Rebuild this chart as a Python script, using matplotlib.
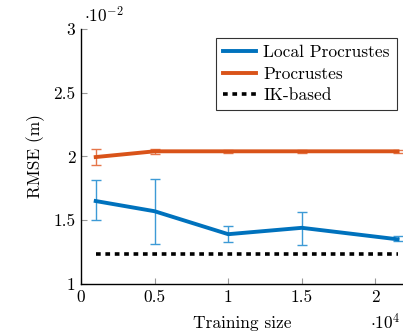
import matplotlib
matplotlib.use('Agg')
import matplotlib.pyplot as plt
from matplotlib.lines import Line2D
from matplotlib.ticker import FuncFormatter

plt.rcParams['font.family'] = ['cmr10', 'DejaVu Serif']
plt.rcParams['mathtext.fontset'] = 'cm'
plt.rcParams['axes.formatter.use_mathtext'] = True

# training sizes
train_size = [1000, 5000, 10000, 15000, 21500]

# RMSE in metres
local_rmse = [0.0165, 0.0157, 0.0139, 0.0144, 0.0135]
local_err_hi = [0.00165, 0.00255, 0.00065, 0.00125, 0.00025]
local_err_lo = [0.00145, 0.00260, 0.00060, 0.00135, 0.00015]

proc_rmse = [0.01995, 0.0204, 0.0204, 0.0204, 0.0204]
proc_err = [0.00060, 0.00020, 0.00010, 0.00010, 0.00010]

ik_rmse = 0.01235

blue = '#0072BD'
orange = '#D95319'
fs = 12.5

fig = plt.figure(figsize=(4.03, 3.36), dpi=100)
ax = fig.add_axes([0.201, 0.155, 0.80, 0.759])

ax.errorbar(train_size, local_rmse, yerr=[local_err_lo, local_err_hi], color=blue,
            lw=2.8, elinewidth=1.0, capsize=3.5, capthick=1.0, ecolor='#3d9ad6', zorder=3)
ax.errorbar(train_size, proc_rmse, yerr=proc_err, color=orange,
            lw=2.8, elinewidth=1.0, capsize=3.5, capthick=1.0, ecolor='#e6764a', zorder=3)
ax.plot([train_size[0], train_size[-1]], [ik_rmse, ik_rmse], color='black', lw=2.6,
        ls=(0, (1.3, 1.3)), zorder=2)

ax.set_xlim(0, 21900)
ax.set_ylim(0.01, 0.03)
ax.set_xticks([0, 5000, 10000, 15000, 20000])
ax.set_yticks([0.01, 0.015, 0.02, 0.025, 0.03])
ax.xaxis.set_major_formatter(FuncFormatter(lambda v, p: '%g' % (v / 1e4)))
ax.yaxis.set_major_formatter(FuncFormatter(lambda v, p: '%g' % (v / 1e-2)))

for s in ['top', 'right']:
    ax.spines[s].set_visible(False)
ax.spines['left'].set_linewidth(1.0)
ax.spines['bottom'].set_linewidth(1.0)
ax.tick_params(direction='in', length=4, color='#999999', labelsize=fs, pad=4)

ax.set_ylabel('RMSE (m)', fontsize=fs, labelpad=6)
ax.set_xlabel('Training size', fontsize=fs, labelpad=8)

fig.text(0.208, 0.955, r'$\cdot10^{-2}$', fontsize=fs, ha='left', va='center')
fig.text(0.918, 0.04, r'$\cdot10^{4}$', fontsize=fs, ha='left', va='center')

handles = [Line2D([], [], color=blue, lw=2.8),
           Line2D([], [], color=orange, lw=2.8),
           Line2D([], [], color='black', lw=2.6, ls=(0, (1.3, 1.3)))]
labels = ['Local Procrustes', 'Procrustes', 'IK-based']
leg = ax.legend(handles, labels, loc='upper right', bbox_to_anchor=(0.995, 0.985), fontsize=fs,
                frameon=True, fancybox=False, edgecolor='black', handlelength=1.9,
                handletextpad=0.4, borderpad=0.4, labelspacing=0.35,
                borderaxespad=0.3)
leg.get_frame().set_linewidth(0.8)

fig.savefig('out.png', dpi=100)
